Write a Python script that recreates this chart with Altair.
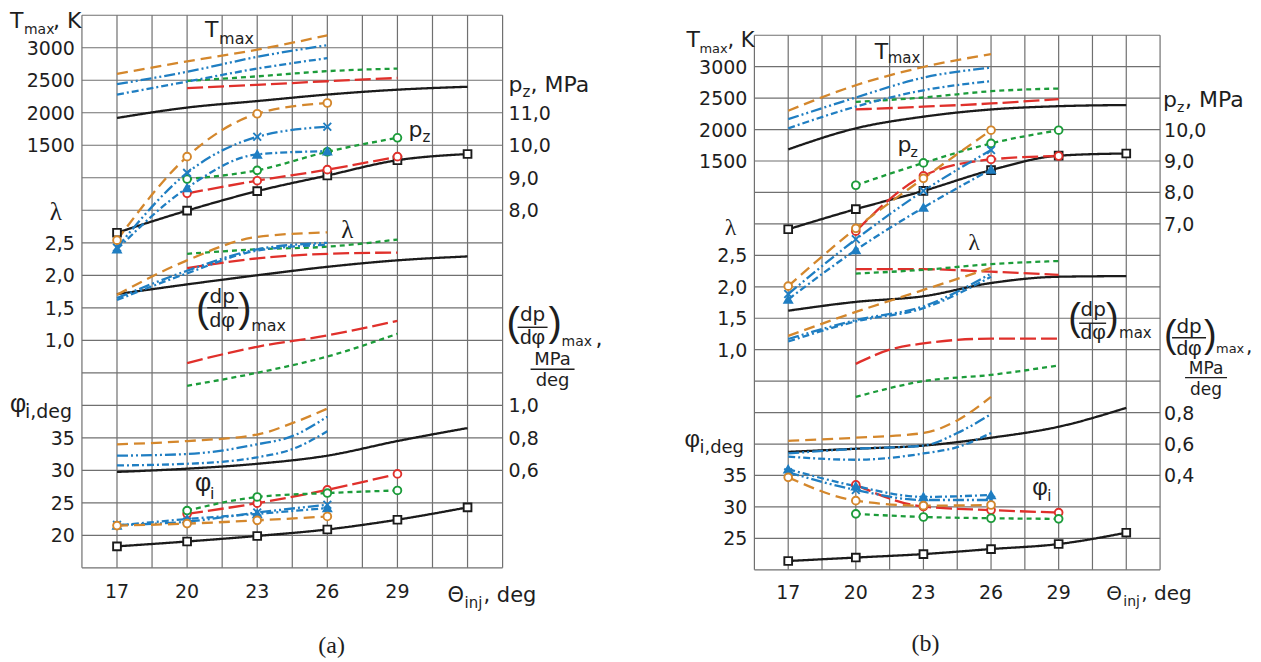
import altair as alt
import pandas as pd

# ---------------- series styling ----------------
SERIES = ["black", "red", "green", "blue_x", "blue_tri", "orange"]
COLORS = ["#1b1b1b", "#e0302b", "#1c9c3a", "#1f7ec2", "#1f7ec2", "#d4872c"]
DASHES = [[1, 0], [16, 5], [5, 4], [11, 3, 2, 3, 2, 3], [7, 3, 2, 3], [11, 6]]
SHAPES = ["square", "circle", "circle", "M-1,-1L1,1M-1,1L1,-1", "triangle-up", "circle"]
FILLS = ["#ffffff", "#ffffff", "#ffffff", "#ffffff", "#1f7ec2", "#ffffff"]

# ---------------- x positions (injection timing, deg) ----------------
X_ALL = [17, 20, 23, 26, 29, 32]
X_LATE = [20, 23, 26, 29]
X_EARLY = [17, 20, 23, 26]
X_EARLY5 = [17, 20, 23, 24.5, 26]
X_RED_B = [20, 21.5, 23, 26, 29]
SERIES_X = {"black": X_ALL, "red": X_LATE, "green": X_LATE,
            "blue_x": X_EARLY, "blue_tri": X_EARLY, "orange": X_EARLY}

GRID_X = [15.5, 17, 18.5, 20, 21.5, 23, 24.5, 26, 27.5, 29, 30.5, 32, 33.5]
GRID_G = list(range(18))
XTICKS = [17, 20, 23, 26, 29]

# ---------------- panel (a) values ----------------
a_tmax = {"black": [1920, 2080, 2180, 2280, 2355, 2400],
          "red": [2380, 2430, 2485, 2535],
          "green": [2490, 2560, 2640, 2680],
          "blue_x": [2440, 2630, 2860, 3040],
          "blue_tri": [2280, 2480, 2680, 2840],
          "orange": [2600, 2790, 2970, 3190]}
a_pz = {"black": [7.31, 7.99, 8.59, 9.07, 9.54, 9.73],
        "red": [8.52, 8.91, 9.25, 9.65],
        "green": [8.96, 9.23, 9.80, 10.23],
        "blue_x": [6.85, 9.15, 10.26, 10.57],
        "blue_tri": [6.80, 8.69, 9.72, 9.82],
        "orange": [7.08, 9.65, 10.97, 11.30]}
a_lam = {"black": [1.71, 1.86, 2.00, 2.13, 2.23, 2.29],
         "red": [2.11, 2.26, 2.33, 2.35],
         "green": [2.33, 2.40, 2.44, 2.55],
         "blue_x": [1.65, 2.07, 2.40, 2.50],
         "blue_tri": [1.62, 2.03, 2.38, 2.47],
         "orange": [1.70, 2.23, 2.59, 2.66]}
a_dp = {"black": [0.59, 0.61, 0.64, 0.69, 0.78, 0.86],
        "red": [1.26, 1.36, 1.43, 1.52],
        "green": [1.12, 1.20, 1.30, 1.44],
        "blue_x": [0.69, 0.70, 0.76, 0.81, 0.93],
        "blue_tri": [0.63, 0.64, 0.68, 0.73, 0.84],
        "orange": [0.76, 0.78, 0.82, 0.89, 0.98]}
a_dp_x = {"blue_x": X_EARLY5, "blue_tri": X_EARLY5, "orange": X_EARLY5}
a_phi = {"black": [18.3, 19.05, 19.9, 20.9, 22.4, 24.3],
         "red": [23.3, 24.95, 27.0, 29.45],
         "green": [23.8, 25.9, 26.5, 26.9],
         "blue_x": [21.6, 22.1, 23.5, 24.7],
         "blue_tri": [21.5, 22.5, 23.3, 24.2],
         "orange": [21.5, 21.8, 22.3, 22.9]}

# ---------------- panel (b) values ----------------
b_tmax = {"black": [1685, 2020, 2205, 2320, 2372, 2390],
          "red": [2320, 2364, 2415, 2485],
          "green": [2440, 2510, 2610, 2653],
          "blue_x": [2165, 2510, 2826, 2985],
          "blue_tri": [2020, 2365, 2625, 2770],
          "orange": [2300, 2705, 2995, 3200]}
b_pz = {"black": [6.83, 7.47, 8.05, 8.71, 9.17, 9.24],
        "red": [6.77, 8.53, 9.05, 9.16],
        "green": [8.23, 8.94, 9.56, 9.98],
        "blue_x": [4.77, 6.51, 8.05, 9.35],
        "blue_tri": [4.60, 6.17, 7.52, 8.73],
        "orange": [5.02, 6.86, 8.45, 9.98]}
b_lam = {"black": [1.62, 1.76, 1.85, 2.06, 2.16, 2.17],
         "red": [2.28, 2.28, 2.24, 2.19],
         "green": [2.21, 2.27, 2.36, 2.41],
         "blue_x": [1.17, 1.47, 1.69, 2.21],
         "blue_tri": [1.13, 1.45, 1.66, 2.16],
         "orange": [1.22, 1.60, 1.95, 2.30]}
b_dp = {"black": [0.55, 0.57, 0.59, 0.64, 0.71, 0.83],
        "red": [1.11, 1.20, 1.24, 1.27, 1.27],
        "green": [0.90, 1.00, 1.04, 1.10],
        "blue_x": [0.54, 0.57, 0.59, 0.67, 0.79],
        "blue_tri": [0.52, 0.50, 0.54, 0.58, 0.67],
        "orange": [0.62, 0.64, 0.67, 0.75, 0.90]}
b_dp_x = {"red": X_RED_B, "blue_x": X_EARLY5, "blue_tri": X_EARLY5, "orange": X_EARLY5}
b_phi = {"black": [21.4, 21.95, 22.5, 23.3, 24.1, 25.9],
         "red": [33.5, 30.05, 29.5, 29.1],
         "green": [28.9, 28.4, 28.2, 28.1],
         "blue_x": [35.5, 32.7, 31.1, 31.1],
         "blue_tri": [36.0, 33.3, 31.6, 31.9],
         "orange": [34.7, 31.0, 30.2, 30.3]}

# ---------------- axis tick values ----------------
TMAX_TICKS = [1500, 2000, 2500, 3000]
LAM_TICKS = [1.0, 1.5, 2.0, 2.5]
a_pz_ticks = [8.0, 9.0, 10.0, 11.0]
a_dp_ticks = [0.6, 0.8, 1.0]
a_phi_ticks = [20, 25, 30, 35]
b_pz_ticks = [7.0, 8.0, 9.0, 10.0]
b_dp_ticks = [0.4, 0.6, 0.8]
b_phi_ticks = [25, 30, 35]

SANS = "DejaVu Sans"
ARIAL = "Liberation Sans"
SERIF = "Liberation Serif"
TEXT = "#1e1e1e"
GRID = "#707070"

# ---------------- layout ----------------
PANEL_A = dict(width=620, height=640, grid_px=(74, 7, 495, 560), left_dx=-7, right_dx=6, xtick_dy=24.5,
               scales={"tmax": (13, 1500, 500), "pz": (11, 8.0, 1.0), "lam": (7, 1.0, 0.5),
                       "dp": (5, 1.0, 0.2), "phi": (1, 20, 5)})
PANEL_B = dict(width=625, height=640, grid_px=(127, 27, 533, 562), left_dx=-7, right_dx=4, xtick_dy=23,
               scales={"tmax": (13, 1500, 500), "pz": (11, 7.0, 1.0), "lam": (7, 1.0, 0.5),
                       "dp": (5, 0.8, 0.2), "phi": (1, 25, 5)})

# annotation pieces: text, anchor x, anchor grid row, dx px, dy px, size, font, align
ANNOT_A = [
    ("T", 15.5, 17, -72, 13, 22, SANS, "left"),
    ("max", 15.5, 17, -58, 19, 14, SANS, "left"),
    (", K", 15.5, 17, -29, 13, 22, SANS, "left"),
    ("λ", 15.5, 11, -20, 10, 25, SERIF, "right"),
    ("φ", 15.5, 5, -72, 7, 25, ARIAL, "left"),
    ("i,deg", 15.5, 5, -57, 13, 19, SANS, "left"),
    ("p", 33.5, 14, 6, -21, 22, SANS, "left"),
    ("z", 33.5, 14, 20, -16, 15, SANS, "left"),
    (", MPa", 33.5, 14, 28, -21, 22, SANS, "left"),
    ("(", 33.5, 7, 4, -4, 40, ARIAL, "left"),
    ("dp", 33.5, 7, 30, -19, 20, SANS, "center"),
    ("dφ", 33.5, 7, 30, 4, 21, ARIAL, "center"),
    (")", 33.5, 7, 46, -4, 40, ARIAL, "left"),
    ("max", 33.5, 7, 59, 6, 14, SANS, "left"),
    (",", 33.5, 7, 93, 6, 22, SANS, "left"),
    ("MPa", 33.5, 7, 50, 25, 18, SANS, "center"),
    ("deg", 33.5, 7, 50, 46, 18, SANS, "center"),
    ("Θ", 32, 0, -20, 34, 21, SANS, "left"),
    ("inj", 32, 0, -3, 40, 15, SANS, "left"),
    (", deg", 32, 0, 16, 34, 21, SANS, "left"),
    ("T", 20, 17, 18, 22, 22, SANS, "left"),
    ("max", 20, 17, 32, 29, 16, SANS, "left"),
    ("p", 29, 13, 11, -8, 22, SANS, "left"),
    ("z", 29, 13, 25, -3, 15, SANS, "left"),
    ("λ", 26, 10, 14, -5, 25, SERIF, "left"),
    ("(", 20, 8, 9, 14, 40, ARIAL, "left"),
    ("dp", 21.5, 8, 0, -5, 20, SANS, "center"),
    ("dφ", 21.5, 8, 0, 19, 21, ARIAL, "center"),
    (")", 21.5, 8, 16, 14, 40, ARIAL, "left"),
    ("max", 21.5, 8, 29, 23, 16, SANS, "left"),
    ("φ", 20, 3, 8, 21, 25, ARIAL, "left"),
    ("i", 20, 3, 23, 29, 16, SANS, "left"),
    ("(a)", 23, 0, 74.5, 85, 24, SERIF, "center"),
]
BARS_A = [(33.5, 7, 15, 45, -13), (33.5, 7, 28, 72, 29), (21.5, 8, -15, 16, 0)]

ANNOT_B = [
    ("T", 15.5, 17, -68, 12, 22, SANS, "left"),
    ("max", 15.5, 17, -55, 18, 13, SANS, "left"),
    (", K", 15.5, 17, -27, 12, 21, SANS, "left"),
    ("λ", 15.5, 11, -18, 11, 24, SERIF, "right"),
    ("φ", 15.5, 4, -70, 3, 24, ARIAL, "left"),
    ("i,deg", 15.5, 4, -55, 9, 18, SANS, "left"),
    ("p", 33.5, 15, 3, 9, 22, SANS, "left"),
    ("z", 33.5, 15, 17, 14, 14, SANS, "left"),
    (", MPa", 33.5, 15, 25, 9, 22, SANS, "left"),
    ("(", 33.5, 7, 4, -3, 38, ARIAL, "left"),
    ("dp", 33.5, 7, 29, -17, 20, SANS, "center"),
    ("dφ", 33.5, 7, 29, 5, 21, ARIAL, "center"),
    (")", 33.5, 7, 44, -3, 38, ARIAL, "left"),
    ("max", 33.5, 7, 56, 3, 13, SANS, "left"),
    (",", 33.5, 7, 86, 3, 20, SANS, "left"),
    ("MPa", 33.5, 7, 46, 24, 17, SANS, "center"),
    ("deg", 33.5, 7, 46, 45, 17, SANS, "center"),
    ("Θ", 32, 0, -20, 30, 20, SANS, "left"),
    ("inj", 32, 0, -3, 36, 14, SANS, "left"),
    (", deg", 32, 0, 15, 30, 20, SANS, "left"),
    ("T", 21.5, 16, -15, -8, 22, SANS, "left"),
    ("max", 21.5, 16, -2, -4, 15, SANS, "left"),
    ("p", 21.5, 13, 8, -9, 22, SANS, "left"),
    ("z", 21.5, 13, 21, -4, 14, SANS, "left"),
    ("λ", 24.5, 10, 11, -5, 24, SERIF, "left"),
    ("(", 29, 8, 9.5, 12, 38, ARIAL, "left"),
    ("dp", 29, 8, 34.5, -2, 20, SANS, "center"),
    ("dφ", 29, 8, 34.5, 21, 21, ARIAL, "center"),
    (")", 29, 8, 47.5, 12, 38, ARIAL, "left"),
    ("max", 29, 8, 60.5, 20, 15, SANS, "left"),
    ("φ", 29, 3, -26.5, 20, 24, ARIAL, "left"),
    ("i", 29, 3, -11.5, 26, 15, SANS, "left"),
    ("(b)", 23, 0, 2, 81, 24, SERIF, "center"),
]
BARS_B = [(33.5, 7, 12, 46, -12), (33.5, 7, 25, 67, 28), (29, 8, 20.5, 47.5, 5)]


def fmt_comma(v):
    return f"{v:.1f}".replace(".", ",")


def build_panel(p, groups, annots, bars):
    L, T, R, B = p["grid_px"]
    pxu = (R - L) / 18.0
    gpx = (B - T) / 17.0
    xdom = [15.5 - L / pxu, 15.5 + (p["width"] - L) / pxu]
    gdom = [-(p["height"] - B) / gpx, 17 + T / gpx]
    xs = alt.Scale(domain=xdom, nice=False, zero=False)
    gs = alt.Scale(domain=gdom, nice=False, zero=False)

    # ---- grid + annotations (grid-row scale) ----
    vdf = pd.DataFrame({"x": GRID_X, "g0": 0, "g1": 17})
    hdf = pd.DataFrame({"g": GRID_G, "x0": GRID_X[0], "x1": GRID_X[-1]})
    vr = alt.Chart(vdf).mark_rule(color=GRID, strokeWidth=1.2).encode(
        x=alt.X("x:Q", scale=xs, axis=None), y=alt.Y("g0:Q", scale=gs, axis=None), y2="g1:Q")
    hr = alt.Chart(hdf).mark_rule(color=GRID, strokeWidth=1.2).encode(
        x=alt.X("x0:Q", scale=xs, axis=None), x2="x1:Q", y=alt.Y("g:Q", scale=gs, axis=None))
    base_layers = [vr, hr]

    bdf = pd.DataFrame([{"x0": xa + d0 / pxu, "x1": xa + d1 / pxu, "g": ga - dy / gpx}
                        for xa, ga, d0, d1, dy in bars])
    base_layers.append(alt.Chart(bdf).mark_rule(color=TEXT, strokeWidth=1.4).encode(
        x=alt.X("x0:Q", scale=xs, axis=None), x2="x1:Q", y=alt.Y("g:Q", scale=gs, axis=None)))

    xt = pd.DataFrame({"x": XTICKS, "g": -p["xtick_dy"] / gpx, "label": [str(v) for v in XTICKS]})
    base_layers.append(alt.Chart(xt).mark_text(align="center", baseline="middle", font=SANS,
                                               fontSize=19, color=TEXT).encode(
        x=alt.X("x:Q", scale=xs, axis=None), y=alt.Y("g:Q", scale=gs, axis=None), text="label:N"))

    rows = [{"text": t, "x": xa + dx / pxu, "g": ga - dy / gpx, "size": sz, "font": f, "align": al}
            for t, xa, ga, dx, dy, sz, f, al in annots]
    adf = pd.DataFrame(rows)
    for (f, al), sub in adf.groupby(["font", "align"]):
        base_layers.append(alt.Chart(sub[["text", "x", "g", "size"]]).mark_text(
            align=al, baseline="alphabetic", font=f, color=TEXT).encode(
            x=alt.X("x:Q", scale=xs, axis=None), y=alt.Y("g:Q", scale=gs, axis=None),
            text="text:N", size=alt.Size("size:Q", scale=None, legend=None)))
    base = alt.layer(*base_layers)

    # ---- data groups (each with own y scale) ----
    glayers = []
    for qname, data, xover, markers, ticks, labels, side in groups:
        g0, q0, dq = p["scales"][qname]
        ys = alt.Scale(domain=[q0 + (gdom[0] - g0) * dq, q0 + (gdom[1] - g0) * dq], nice=False, zero=False)
        recs = []
        for s in SERIES:
            xvals = xover.get(s, SERIES_X[s])
            for xv, vv in zip(xvals, data[s]):
                recs.append({"s": s, "x": xv, "v": vv})
        df = pd.DataFrame(recs)
        ex = alt.X("x:Q", scale=xs, axis=None)
        ey = alt.Y("v:Q", scale=ys, axis=None)
        ls = [alt.Chart(df).mark_line(interpolate="monotone", strokeWidth=2.3).encode(
            x=ex, y=ey,
            color=alt.Color("s:N", scale=alt.Scale(domain=SERIES, range=COLORS), legend=None),
            strokeDash=alt.StrokeDash("s:N", scale=alt.Scale(domain=SERIES, range=DASHES), legend=None))]
        if markers:
            ls.append(alt.Chart(df).mark_point(filled=True, size=60, strokeWidth=1.9, opacity=1).encode(
                x=ex, y=ey,
                shape=alt.Shape("s:N", scale=alt.Scale(domain=SERIES, range=SHAPES), legend=None),
                fill=alt.Fill("s:N", scale=alt.Scale(domain=SERIES, range=FILLS), legend=None),
                stroke=alt.Stroke("s:N", scale=alt.Scale(domain=SERIES, range=COLORS), legend=None)))
        if side == "left":
            tx, al = GRID_X[0] + p["left_dx"] / pxu, "right"
        else:
            tx, al = GRID_X[-1] + p["right_dx"] / pxu, "left"
        tdf = pd.DataFrame({"v": ticks, "label": labels, "x": tx})
        ls.append(alt.Chart(tdf).mark_text(align=al, baseline="middle", font=SANS, fontSize=19,
                                           color=TEXT, dy=1).encode(
            x=ex, y=ey, text="label:N"))
        glayers.append(alt.layer(*ls))

    return alt.layer(base, *glayers).resolve_scale(y="independent").properties(
        width=p["width"], height=p["height"])


groups_a = [
    ("tmax", a_tmax, {}, False, TMAX_TICKS, [str(v) for v in TMAX_TICKS], "left"),
    ("pz", a_pz, {}, True, a_pz_ticks, [fmt_comma(v) for v in a_pz_ticks], "right"),
    ("lam", a_lam, {}, False, LAM_TICKS, [fmt_comma(v) for v in LAM_TICKS], "left"),
    ("dp", a_dp, a_dp_x, False, a_dp_ticks, [fmt_comma(v) for v in a_dp_ticks], "right"),
    ("phi", a_phi, {}, True, a_phi_ticks, [str(v) for v in a_phi_ticks], "left"),
]
groups_b = [
    ("tmax", b_tmax, {}, False, TMAX_TICKS, [str(v) for v in TMAX_TICKS], "left"),
    ("pz", b_pz, {}, True, b_pz_ticks, [fmt_comma(v) for v in b_pz_ticks], "right"),
    ("lam", b_lam, {}, False, LAM_TICKS, [fmt_comma(v) for v in LAM_TICKS], "left"),
    ("dp", b_dp, b_dp_x, False, b_dp_ticks, [fmt_comma(v) for v in b_dp_ticks], "right"),
    ("phi", b_phi, {}, True, b_phi_ticks, [str(v) for v in b_phi_ticks], "left"),
]

panel_a = build_panel(PANEL_A, groups_a, ANNOT_A, BARS_A)
panel_b = build_panel(PANEL_B, groups_b, ANNOT_B, BARS_B)

chart = alt.hconcat(panel_a, panel_b, spacing=0).properties(
    padding=0, background="white").configure_view(stroke=None)

chart.save("out.html", embed_options={"renderer": "svg", "actions": False})
